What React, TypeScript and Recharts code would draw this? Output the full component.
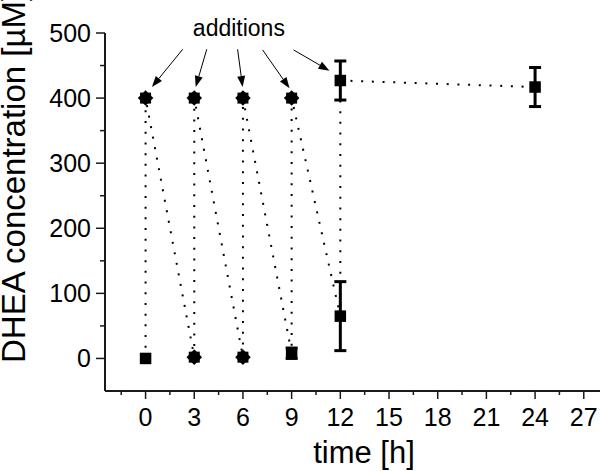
import React from 'react';
import { ComposedChart, Line, Scatter, XAxis, YAxis, ErrorBar, ReferenceLine, ReferenceDot } from 'recharts';

// dotted connecting path (in measurement order)
const pathX = [0, 0, 3, 3, 6, 6, 9, 9, 12, 12, 24];
const pathY = [0, 400, 2, 400, 2, 400, 8, 400, 65, 427, 417];

// square markers with error bars
const sqX = [9, 12, 12, 24];
const sqY = [8, 65, 427, 417];
const sqErr = [8, 53, 30, 30];

// square marker without error bar
const sq0X = [0];
const sq0Y = [0];

// star markers
const starX = [0, 3, 6, 9, 3, 6];
const starY = [400, 400, 400, 400, 2, 2];

// x ticks (major every 3, minor in between)
const xTicks = [-1.5, 0, 1.5, 3, 4.5, 6, 7.5, 9, 10.5, 12, 13.5, 15, 16.5, 18, 19.5, 21, 22.5, 24, 25.5, 27];
const yTicks = [0, 50, 100, 150, 200, 250, 300, 350, 400, 450, 500];

// "additions" arrows: tail (x,y) -> head (x,y)
const arrowTailX = [2.29, 3.77, 5.67, 7.21, 9.12];
const arrowTailY = [475, 475, 475, 474, 474];
const arrowHeadX = [0.39, 3.09, 5.98, 8.87, 11.33];
const arrowHeadY = [417, 417, 417, 415, 442];
const annotX = 5.75;
const annotY = 507;
const annotText = 'additions';

const FONT = '"Liberation Sans", Arial, sans-serif';

const pathData = pathX.map((x, i) => ({ x, y: pathY[i] }));
const sqData = sqX.map((x, i) => ({ x, y: sqY[i], err: sqErr[i] }));
const sq0Data = sq0X.map((x, i) => ({ x, y: sq0Y[i] }));
const starData = starX.map((x, i) => ({ x, y: starY[i] }));

const Square = (p: any) => {
  const s = 11.5;
  return <rect x={p.cx - s / 2} y={p.cy - s / 2} width={s} height={s} fill="#000" />;
};

const Star = (p: any) => {
  const s = 11;
  return (
    <g>
      <rect x={p.cx - s / 2} y={p.cy - s / 2} width={s} height={s} fill="#000" />
      <rect x={p.cx - s / 2} y={p.cy - s / 2} width={s} height={s} fill="#000" transform={`rotate(45 ${p.cx} ${p.cy})`} />
    </g>
  );
};

const Arrow = (p: any) => {
  const { x1, y1, x2, y2 } = p;
  const dx = x2 - x1;
  const dy = y2 - y1;
  const len = Math.hypot(dx, dy) || 1;
  const ux = dx / len;
  const uy = dy / len;
  const hl = 11;
  const hw = 4;
  const bx = x2 - ux * hl;
  const by = y2 - uy * hl;
  const pts = `${x2},${y2} ${bx - uy * hw},${by + ux * hw} ${bx + uy * hw},${by - ux * hw}`;
  return (
    <g>
      <line x1={x1} y1={y1} x2={bx} y2={by} stroke="#000" strokeWidth={1} />
      <polygon points={pts} fill="#000" />
    </g>
  );
};

const XTick = (p: any) => {
  const { x, y, payload } = p;
  const v = payload.value;
  const major = Math.abs(v % 3) < 1e-6;
  return (
    <g>
      <line x1={x} y1={y} x2={x} y2={y + (major ? 8 : 4)} stroke="#1a1a1a" strokeWidth={1.5} />
      {major && (
        <text x={x} y={y + 35} textAnchor="middle" fontSize={25} fontFamily={FONT} fill="#000">
          {v}
        </text>
      )}
    </g>
  );
};

const YTick = (p: any) => {
  const { x, y, payload } = p;
  const v = payload.value;
  const major = v % 100 === 0;
  return (
    <g>
      <line x1={x} y1={y} x2={x - (major ? 9 : 5)} y2={y} stroke="#1a1a1a" strokeWidth={1.5} />
      {major && (
        <text x={x - 14} y={y + 9} textAnchor="end" fontSize={25} fontFamily={FONT} fill="#000">
          {v}
        </text>
      )}
    </g>
  );
};

export default function App() {
  return (
    <div style={{ position: 'absolute', left: 0, top: 0, width: 600, height: 471, background: '#fff' }}>
      <ComposedChart width={600} height={471} margin={{ top: 33, right: 0, bottom: 0, left: 0 }}>
        <XAxis
          dataKey="x"
          type="number"
          domain={[-2.5, 28]}
          ticks={xTicks}
          interval={0}
          tickSize={0}
          tickMargin={0}
          tick={<XTick />}
          height={80}
          axisLine={{ stroke: '#1a1a1a', strokeWidth: 2 }}
          allowDataOverflow
          label={{
            content: () => (
              <text x={364} y={463} textAnchor="middle" fontSize={31} fontFamily={FONT} fill="#000">
                time [h]
              </text>
            ),
          }}
        />
        <YAxis
          dataKey="y"
          type="number"
          domain={[-50, 500]}
          ticks={yTicks}
          interval={0}
          tickSize={0}
          tickMargin={0}
          tick={<YTick />}
          width={105}
          axisLine={{ stroke: '#1a1a1a', strokeWidth: 2 }}
          allowDataOverflow
          label={{
            content: () => (
              <text
                x={25}
                y={363}
                transform="rotate(-90 25 363)"
                textAnchor="start"
                fontSize={33}
                fontFamily={FONT}
                fill="#000"
              >
                DHEA concentration [µM]
              </text>
            ),
          }}
        />
        <Line
          data={pathData}
          dataKey="y"
          stroke="#000"
          strokeWidth={2}
          strokeDasharray="2 8.7"
          dot={false}
          activeDot={false}
          isAnimationActive={false}
          type="linear"
        />
        {arrowTailX.map((tx, i) => (
          <ReferenceLine
            key={i}
            segment={[
              { x: tx, y: arrowTailY[i] },
              { x: arrowHeadX[i], y: arrowHeadY[i] },
            ]}
            ifOverflow="visible"
            shape={Arrow}
          />
        ))}
        <ReferenceDot
          x={annotX}
          y={annotY}
          r={0}
          ifOverflow="visible"
          shape={(p: any) => (
            <text x={p.cx} y={p.cy + 8} textAnchor="middle" fontSize={23} fontFamily={FONT} fill="#000">
              {annotText}
            </text>
          )}
        />
        <Scatter data={starData} dataKey="y" shape={Star} isAnimationActive={false} />
        <Scatter data={sq0Data} dataKey="y" shape={Square} isAnimationActive={false} />
        <Scatter data={sqData} dataKey="y" shape={Square} isAnimationActive={false}>
          <ErrorBar dataKey="err" direction="y" width={6} strokeWidth={3} stroke="#000" />
        </Scatter>
      </ComposedChart>
    </div>
  );
}
